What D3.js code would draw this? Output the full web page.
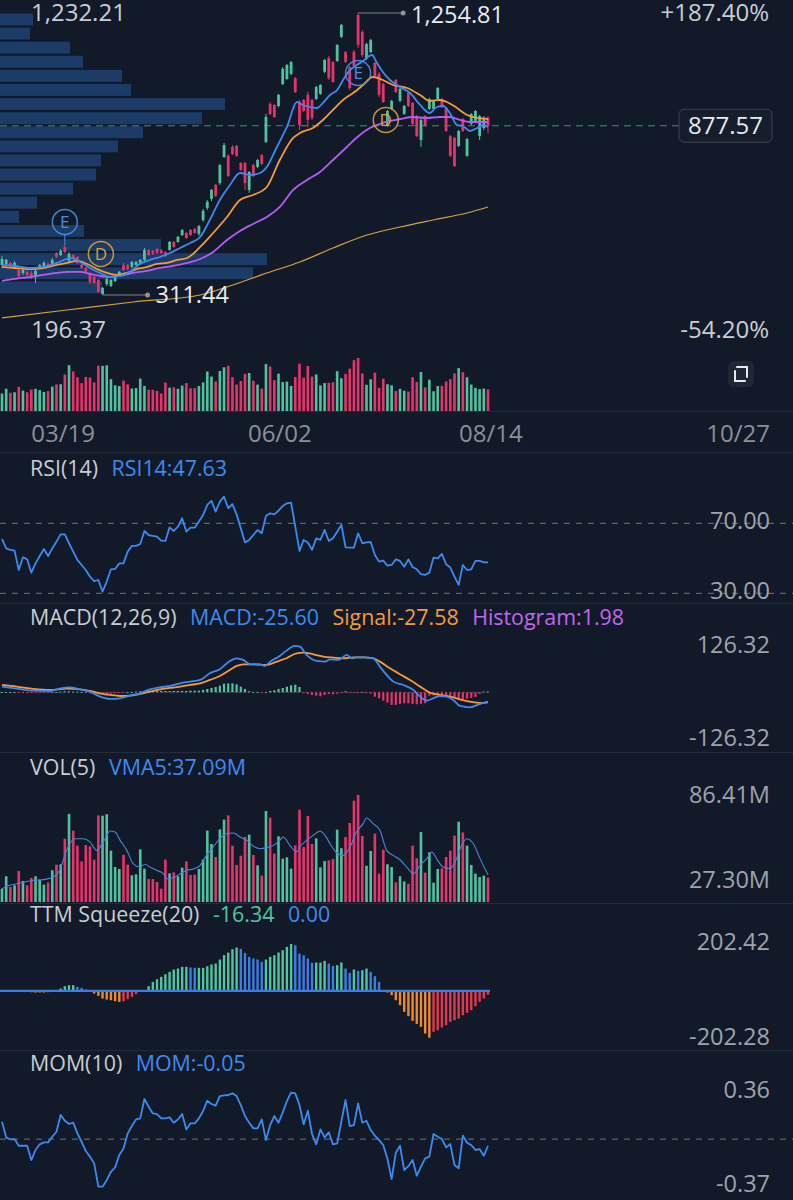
<!DOCTYPE html>
<html><head><meta charset="utf-8">
<script src="https://cdn.jsdelivr.net/npm/d3@7"></script>
<style>
html,body{margin:0;padding:0;background:#121a29;}
svg{display:block;font-family:"Open Sans","Noto Sans",sans-serif;}
</style></head><body>
<svg id="c" width="793" height="1200"></svg>
<script>
// ---------------- DATA ----------------
const opens  = [412,415,419,405,395,385,389,385,375,402,405,415,415,452,445,472,425,445,439,412,402,382,372,362,315,348,342,358,375,412,412,405,412,419,429,462,459,465,462,455,462,489,489,512,519,529,532,516,562,603,633,680,686,773,777,807,810,753,753,663,746,740,780,823,950,947,944,1017,1034,1051,1037,957,964,981,964,967,984,1058,1104,1091,1094,1175,1124,1074,1124,1248,1191,1101,1124,1088,1051,1017,877,934,1031,961,917,987,954,910,830,910,934,934,967,967,937,843,837,810,900,777,884,894,843,870,904];
const highs  = [442,432,422,425,402,402,395,392,402,415,425,422,435,455,465,479,455,449,442,415,405,389,375,365,338,372,365,382,392,419,415,425,425,432,469,465,462,469,465,459,492,492,509,532,522,532,536,546,599,629,666,683,750,820,783,813,813,756,756,726,750,767,783,917,957,950,984,1074,1084,1094,1041,964,967,991,967,1011,1017,1101,1111,1094,1151,1218,1128,1078,1131,1254.81,1198,1155,1168,1091,1058,1021,930,964,1034,1004,947,991,957,914,904,914,971,964,1007,971,940,847,840,864,904,837,920,930,914,910,910];
const lows   = [402,409,402,402,368,378,375,365,352,399,402,402,412,435,442,452,422,429,415,399,385,348,348,318,311.44,342,338,355,372,392,395,402,409,415,425,442,445,449,449,439,459,469,486,509,499,509,516,509,556,596,626,639,680,770,706,780,773,726,663,653,706,736,746,820,914,904,940,1014,1031,1047,987,863,924,873,897,964,981,1054,1031,1021,1091,1171,1088,997,1071,1138,1108,1098,1121,1041,974,954,874,930,987,957,914,940,880,840,807,874,930,930,964,937,857,773,740,807,857,773,880,890,830,863,853];
const closes = [432,429,409,419,375,395,378,372,392,412,419,405,429,439,459,455,449,432,419,402,389,355,352,322,335,365,362,375,389,395,399,422,422,429,462,445,449,452,452,442,489,472,506,529,502,512,519,542,593,623,663,643,746,813,710,783,777,730,686,723,710,763,750,907,917,907,981,1068,1081,1091,991,880,927,897,904,1007,1014,1098,1037,1024,1148,1215,1091,1004,1078,1148,1114,1151,1164,1044,981,957,927,961,991,1001,944,944,884,843,897,877,967,961,1004,940,860,777,743,860,860,833,917,927,910,904,877.57];
const volumes = [28.5,36.2,29.6,30.6,39.4,33.3,30.6,35.1,36.2,34.1,31.0,32.4,39.9,43.4,43.6,59.4,74.7,64.4,55.1,45.4,55.5,54.7,46.5,73.8,73.6,74.5,52.0,41.9,40.7,49.5,43.4,36.8,37.4,52.8,40.9,34.5,34.5,32.7,28.5,46.5,38.0,38.6,36.2,41.5,45.4,37.0,37.2,40.7,46.5,64.4,56.1,48.1,65.2,71.2,73.8,55.1,43.2,48.9,60.5,61.9,49.3,43.0,36.6,76.5,72.4,50.2,60.9,47.1,47.9,40.9,55.3,77.3,54.3,73.4,56.1,59.6,41.7,45.6,46.0,46.9,65.0,53.5,60.5,69.1,82.9,86.41,61.1,42.7,51.8,62.5,37.8,52.6,43.6,41.9,32.4,36.2,33.0,31.6,55.1,47.3,63.5,38.4,51.0,32.2,40.7,41.1,48.1,52.0,61.3,69.9,63.3,55.1,43.2,37.8,35.7,36.6,35.3];

// moving averages (day index, price)
const ma5Idx  = [0,3.1,6.7,9.8,13.1,15.5,16.7,18.6,21,23.4,25.8,28.2,30.5,32.9,35.3,37.7,40.1,42.5,44.9,47.3,49.6,52,54.4,56.8,59.2,61.6,63.2,65.6,68,70.4,71.8,73.5,75.2,76.6,78.3,80,81.4,83.1,84.7,86.2,88.3,89.5,90.9,92.6,95,97.4,99.8,102.1,103.8,105.3,106.9,108.6,110,111.7,113.4,114.8,116];
const ma5Val  = [411.9,408.5,401.8,405.2,418.6,432.0,435.3,421.9,401.8,385.1,371.7,375.1,388.5,415.2,428.6,438.6,452.0,468.7,485.5,505.5,562.4,629.3,679.5,719.6,712.9,719.6,739.7,806.6,873.5,957.1,947.1,940.4,937.0,953.8,980.5,997.3,1030.7,1064.2,1080.9,1094.3,1114.3,1087.6,1057.5,1030.7,1007.3,987.2,947.1,920.3,940.4,943.7,920.3,880.2,876.8,860.1,870.1,880.2,873.5];
const ma10Idx = [0,3.1,6.7,9.8,13.1,15.5,17.9,20.3,22.7,25.1,27.4,29.8,32.2,34.6,37,39.4,41.8,44.2,47.3,50.4,53.7,56.8,59.9,63.2,66.3,69.5,71.1,74.2,76.6,79,81.4,83.8,86.2,88.5,90.9,93.3,96.7,99.8,102.1,104.5,106.2,108.6,111,113.4,116];
const ma10Val = [405.2,401.8,398.5,401.8,411.9,418.6,425.3,415.2,398.5,385.1,378.4,385.1,398.5,405.2,415.2,418.6,428.6,435.3,472.1,518.9,572.4,629.3,646.0,672.8,763.1,836.7,853.4,870.1,896.9,930.4,963.8,987.2,1014.0,1040.7,1030.7,1014.0,1004.0,980.5,960.5,963.8,957.1,937.0,913.6,903.6,900.2];
const ma20Idx = [0,3.1,6.7,9.8,13.1,15.5,18.6,21,23.4,25.8,28.2,31.3,34.6,37.7,40.8,44.2,47.3,50.4,53.7,56.8,59.9,63.2,66.3,69.5,72.8,75.9,79,82.3,85.4,87.8,90.2,92.6,95,98.1,101.4,104.5,106.9,109.3,111.7,114.1,116];
const ma20Val = [358.4,365.1,371.7,378.4,385.1,388.5,388.5,381.8,375.1,371.7,375.1,385.1,391.8,401.8,408.5,418.6,432.0,455.4,495.5,525.6,549.0,572.4,605.9,662.8,696.2,723.0,763.1,806.6,846.7,870.1,883.5,893.6,900.2,906.9,903.6,906.9,906.9,896.9,890.2,890.2,890.2];
const maLongIdx = [0,15.5,31.3,47.3,55.1,63.2,71.1,79,87.1,95,102.9,111,116];
const maLongVal = [234.6,261.3,288.1,311.5,345.0,385.1,421.9,468.7,512.2,539.0,562.4,585.8,605.9];

// volume profile, top bin first
const profileVol = [33,30,70,83,122,131,225,202,143,118,101,96,73,37,19,84,161,267,253,102];

// events
const eventIdx   = [15, 23.6, 85, 91.6];
const eventType  = ["E","D","E","D"];
const eventPrice = [555.7, 448.7, 1054.1, 896.9];

// price labels
const priceTop = "1,232.21", priceBottom = "196.37";
const pctTop = "+187.40%", pctBottom = "-54.20%";
const lastPrice = 877.57;

// date axis
const dateLabels = ["03/19","06/02","08/14","10/27"];
const dateIdx    = [14.6, 66.3, 116.7, 175.7];

// RSI
const rsi = [60.9,55.7,54.8,54.4,43.3,50.6,49.4,41.8,47.1,51.3,55.3,51.3,55.7,59.5,63.7,63.7,58.6,53.8,49.1,46.2,43.3,39.5,37.0,37.6,31.0,36.7,43.7,43.9,47.1,47.1,53.8,57.1,57.1,58.2,65.6,63.3,62.8,62.4,60.1,59.9,67.7,65.6,68.1,72.9,65.2,67.5,67.5,71.0,74.8,80.5,82.8,76.7,82.4,85.2,78.6,80.9,75.1,67.1,59.1,60.5,63.3,66.2,64.3,74.2,75.7,75.1,77.2,79.9,81.4,81.8,68.1,54.2,60.5,59.0,54.8,61.4,60.5,66.2,59.9,61.4,65.2,69.1,56.3,56.1,56.1,64.3,58.6,59.1,59.3,51.9,48.1,48.7,45.8,46.2,49.4,48.5,45.2,49.4,45.0,43.7,40.9,40.5,41.8,50.4,50.0,52.5,46.6,44.7,39.5,34.8,46.2,43.3,43.7,48.5,48.5,47.7,47.63];

// MACD
const macdIdx = [0,3.5,7.5,11.5,13.8,16.2,18.6,21,23.4,25.8,28.2,30.5,32.9,35.3,37.7,40.1,42.5,44.9,47.3,49.6,52,54.4,56,57.6,59.2,61.6,62.8,64,66.3,67.9,69.9,71.1,72.7,75.1,77.1,78.3,80.3,82.3,83.5,84.6,86.2,88.6,90.2,91.8,93.4,95.8,98.2,99.8,101.4,102.9,104.5,106.1,107.7,109.3,111.7,114.1,116];
const macdVal = [15.4,10.0,4.5,3.6,10.0,13.6,8.2,1.8,-11.8,-18.1,-16.3,-9.1,-2.7,8.2,13.6,17.2,24.5,29.0,33.5,51.6,62.5,85.1,92.4,87.9,76.1,76.1,71.6,83.3,98.7,113.2,126.32,124.1,101.4,85.1,83.3,89.7,87.9,101.4,92.4,95.1,95.1,92.4,69.7,47.1,29.0,19.9,6.3,-11.8,-22.6,-16.3,-10.0,-11.8,-20.8,-37.1,-40.8,-31.7,-25.60];
const signalIdx = [0,3.5,7.5,11.5,15.4,18.6,21,23.4,25.8,28.2,30.5,32.9,35.3,37.7,40.1,42.5,44.9,47.3,49.6,52,54.4,56,57.6,60,62.8,65.6,67.9,70.3,71.9,74.3,76.7,79.1,81.5,83.9,86.2,88.6,90.2,92.6,95,97.4,99.8,102.1,104.5,106.9,109.3,111.7,114.1,116];
const signalVal = [19.9,15.4,9.1,6.3,10.0,8.2,3.6,-2.7,-7.2,-10.0,-9.1,-4.5,1.8,8.2,11.8,15.4,19.9,24.5,33.5,44.4,60.7,71.6,76.1,76.1,74.3,83.3,92.4,106.0,107.8,103.3,96.9,94.2,92.4,95.1,95.1,92.4,83.3,65.2,48.9,33.5,15.4,-0.9,-7.2,-11.8,-19.0,-25.4,-29.0,-27.58];
const macdHist = [0.9,0.9,0.9,0,-0.9,-0.9,-1.8,-1.8,-1.8,-1.8,-0.9,-0.9,0,0.9,1.8,2.7,2.7,1.8,1.8,0.9,-0.9,-2.7,-3.6,-4.5,-5.4,-4.5,-3.6,-2.7,-1.8,-0.9,0,0.9,1.8,2.7,3.6,4.5,4.5,4.5,3.6,3.6,3.6,3.6,3.6,3.6,3.6,4.5,4.5,4.5,6.3,9,11.7,14.4,18,23.4,24.3,24.3,21.6,15.3,9,2.7,0.9,0,-0.9,0,3.6,5.4,9,11.7,15.3,18.9,20.7,14.4,-2.7,-4.5,-7.2,-9,-10.8,-7.2,-4.5,-5.4,-3.6,-1.8,2.7,-0.9,-1.8,-0.9,0,-1.8,-3.6,-11.7,-16.2,-22.5,-27.9,-34.2,-34.2,-31.5,-29.7,-29.7,-31.5,-32.4,-31.5,-29.7,-9,-8.1,-7.2,-7.2,-9,-11.7,-15.3,-17.1,-18,-17.1,-15.3,-12.6,-4.5,1.8,1.98];

// VOL(5) moving average
const vmaIdx = [0,1.9,4.3,7.5,9.9,12.3,13.8,15.4,17.4,19.4,21,22.6,24.2,25.8,27,28.2,29.8,31.3,32.9,34.1,35.3,36.9,38.5,39.3,40.9,42.5,44.1,45.7,47.3,48.8,50.4,52,53.6,55.2,56.8,58.4,60,61.6,63.2,64.8,66.3,67.1,68.7,70.3,71.1,72.7,74.3,75.9,77.1,78.3,79.9,81.5,83.1,84.6,86.2,87,88.6,90.2,91.8,93.4,95,96.6,98.2,99.8,101.4,102.6,103.7,105.3,106.9,108.5,109.7,110.9,112.5,114.1,116];
const vmaVal = [28.5,30.6,32.0,33.7,34.1,35.7,39.9,52.2,59.4,59.4,57.4,52.2,57.4,64.2,63.5,58.4,52.2,44.0,41.9,43.6,41.9,39.9,37.8,34.7,35.3,37.8,39.9,40.7,43.0,49.1,54.3,59.4,62.5,62.9,60.5,58.4,54.7,53.2,53.9,55.3,58.4,60.5,55.3,51.2,54.3,58.4,61.5,64.2,61.5,56.3,50.6,49.1,54.3,63.5,68.7,72.2,68.7,64.6,52.2,49.1,46.4,41.9,37.8,43.0,47.1,51.2,47.1,41.9,40.9,47.1,55.3,59.4,56.3,47.1,37.09];

// TTM Squeeze momentum
const ttm = [0,1.4,1.4,0,0,-1.4,-4.3,-5.8,-7.2,-7.2,-7.2,-5.8,-1.4,0,10.1,20.2,24.5,24.5,17.3,13.0,5.8,-2.9,-11.5,-21.6,-33.1,-37.4,-40.3,-44.6,-47.5,-44.6,-36.0,-25.9,-14.4,-4.3,2.9,20.2,38.9,50.4,60.5,72.0,82.1,92.2,96.5,103.7,103.7,100.8,99.4,99.4,99.4,106.6,113.8,118.1,135.4,154.1,165.6,180.0,187.2,181.4,164.2,146.9,139.7,135.4,125.3,135.4,146.9,154.1,165.6,175.7,190.1,202.42,197.3,161.3,154.1,139.7,121.0,122.4,122.4,129.6,118.1,108.0,110.9,122.4,96.5,77.8,92.2,86.4,89.3,96.5,82.1,63.4,38.9,0.5,-7,-18.7,-40.3,-61.9,-90.7,-109.4,-129.6,-142.6,-155.5,-184.3,-202.28,-177.1,-169.9,-158.4,-148.3,-133.9,-126.7,-119.5,-105.1,-95.0,-83.5,-66.2,-47.5,-33.1,-16.34];

// Momentum
const mom = [0.135,0.013,-0.003,0.0,-0.052,-0.052,-0.052,-0.163,-0.085,-0.041,-0.026,-0.026,0.018,0.057,0.187,0.142,0.117,0.127,0.044,-0.021,-0.093,-0.137,-0.189,-0.370,-0.370,-0.319,-0.254,-0.220,-0.124,-0.073,0.044,0.101,0.153,0.161,0.311,0.251,0.199,0.194,0.161,0.161,0.168,0.127,0.153,0.194,0.075,0.122,0.122,0.161,0.218,0.298,0.272,0.259,0.334,0.339,0.342,0.355,0.334,0.264,0.179,0.127,0.083,0.083,0.153,-0.008,0.109,0.179,0.127,0.205,0.295,0.360,0.355,0.264,0.114,0.220,0.039,-0.041,0.075,0.013,0.052,-0.041,-0.034,0.135,0.303,0.101,0.109,0.277,0.127,0.142,0.070,0.026,-0.008,-0.047,-0.155,-0.311,-0.106,-0.052,-0.241,-0.210,-0.163,-0.285,-0.215,-0.150,-0.137,0.039,0.018,0.0,-0.065,-0.039,-0.202,-0.228,0.026,-0.028,-0.047,-0.085,-0.078,-0.130,-0.052];

// header texts
const rsiHeader  = [["RSI(14)","hdr"],["RSI14:47.63","blue"]];
const macdHeader = [["MACD(12,26,9)","hdr"],["MACD:-25.60","blue"],["Signal:-27.58","orange"],["Histogram:1.98","purple"]];
const volHeader  = [["VOL(5)","hdr"],["VMA5:37.09M","blue"]];
const ttmHeader  = [["TTM Squeeze(20)","hdr"],["-16.34","green"],["0.00","blue"]];
const momHeader  = [["MOM(10)","hdr"],["MOM:-0.05","blue"]];
const rsiLevels = [70, 30];
const rsiLevelLabels = ["70.00","30.00"];
const macdLabels = ["126.32","-126.32"];
const volLabels = ["86.41M","27.30M"];
const ttmLabels = ["202.42","-202.28"];
const momLabels = ["0.36","-0.37"];

// ---------------- STYLE ----------------
const C = {
  bg:"#121a29", up:"#4fc3a0", dn:"#e6336c", blue:"#3d8bf0", orange:"#f59a38",
  purple:"#b65cf3", gold:"#d6a33c", profile:"#1c3b66", grid:"#232b3a",
  txt:"#9ea3ad", hdr:"#c9cdd4", white:"#e8eaee",
  tGreen:"#4fc6a0", tBlue:"#3b7fe2", tOrange:"#f08a2c", tRed:"#e4384c"
};
const hdrColor = {hdr:C.hdr, blue:C.blue, orange:C.orange, purple:"#c266f0", green:C.tGreen};
const FS_HDR = 21.4, FS_AX = 23.5, FS_PRICE = 24, FS_DATE = 24;

const W = 793, N = closes.length;
const svg = d3.select("#c");
svg.append("rect").attr("width",W).attr("height",1200).attr("fill",C.bg);

const x = d3.scaleLinear().domain([0,116]).range([2,488]);
const barW = 2.8;

// ---------------- MAIN PRICE CHART ----------------
const yP = d3.scaleLinear().domain([311.44,1254.81]).range([295,13]);
const gMain = svg.append("g");

// volume profile
const step = (yP.domain()[1]-yP.domain()[0])/profileVol.length;
const xProf = d3.scaleLinear().domain([0,d3.max(profileVol)]).range([0,267]);
gMain.selectAll("rect.prof").data(profileVol).join("rect")
  .attr("x",0)
  .attr("y",(d,i)=>yP(yP.domain()[1]-i*step)+0.5)
  .attr("width",d=>xProf(d))
  .attr("height",(d,i)=>yP(yP.domain()[1]-(i+1)*step)-yP(yP.domain()[1]-i*step)-2.2)
  .attr("fill",C.profile);

// last price dashed line
gMain.append("line").attr("x1",0).attr("x2",679).attr("y1",yP(lastPrice)).attr("y2",yP(lastPrice))
  .attr("stroke","#3f8d7d").attr("stroke-width",1.2).attr("stroke-dasharray","7,5");

// candles
const idx = d3.range(N);
const isUp = i => closes[i] >= opens[i];
gMain.selectAll("line.wick").data(idx).join("line")
  .attr("x1",i=>x(i)).attr("x2",i=>x(i))
  .attr("y1",i=>yP(highs[i])).attr("y2",i=>yP(lows[i]))
  .attr("stroke",i=>isUp(i)?C.up:C.dn).attr("stroke-width",1);
gMain.selectAll("rect.body").data(idx).join("rect")
  .attr("x",i=>x(i)-barW/2).attr("width",barW)
  .attr("y",i=>yP(Math.max(opens[i],closes[i])))
  .attr("height",i=>Math.max(1,Math.abs(yP(opens[i])-yP(closes[i]))))
  .attr("fill",i=>isUp(i)?C.up:C.dn);

// moving averages
const maLine = d3.line().x(d=>x(d[0])).y(d=>yP(d[1])).curve(d3.curveMonotoneX);
const zip = (a,b)=>a.map((v,i)=>[v,b[i]]);
gMain.append("path").attr("d",maLine(zip(maLongIdx,maLongVal))).attr("fill","none").attr("stroke",C.gold).attr("stroke-width",1.2);
gMain.append("path").attr("d",maLine(zip(ma20Idx,ma20Val))).attr("fill","none").attr("stroke",C.purple).attr("stroke-width",1.8);
gMain.append("path").attr("d",maLine(zip(ma10Idx,ma10Val))).attr("fill","none").attr("stroke",C.orange).attr("stroke-width",1.8);
gMain.append("path").attr("d",maLine(zip(ma5Idx,ma5Val))).attr("fill","none").attr("stroke",C.blue).attr("stroke-width",1.8);

// event markers
eventIdx.forEach((ei,k)=>{
  const cx = x(ei), cy = yP(eventPrice[k]);
  const col = eventType[k]==="E" ? "#4a8fe6" : "#d9a234";
  if(eventType[k]==="E"){
    const hi = highs[Math.round(ei)];
    if(yP(hi) > cy+12) gMain.append("line").attr("x1",cx).attr("x2",cx).attr("y1",cy+12).attr("y2",yP(hi)).attr("stroke",col).attr("stroke-width",1);
  }
  gMain.append("circle").attr("cx",cx).attr("cy",cy).attr("r",12.5).attr("fill","none").attr("stroke",col).attr("stroke-width",1.5).attr("opacity",0.9);
  gMain.append("text").attr("x",cx).attr("y",cy+6).attr("text-anchor","middle").attr("font-size",17).attr("fill",col).text(eventType[k]);
});

// high / low annotations
const iHi = d3.maxIndex(highs), iLo = d3.minIndex(lows);
function annot(i, val, label, fy){
  const x0 = x(i), y0 = yP(val);
  gMain.append("line").attr("x1",x0).attr("x2",x0+43).attr("y1",y0).attr("y2",y0).attr("stroke","#7d828c").attr("stroke-width",1);
  gMain.append("circle").attr("cx",x0+45).attr("cy",y0).attr("r",2.5).attr("fill","#8d929b");
  gMain.append("text").attr("x",x0+53).attr("y",y0+fy).attr("font-size",FS_PRICE-0.5).attr("fill",C.white).text(label);
}
annot(iHi, highs[iHi], d3.format(",.2f")(highs[iHi]), 9.5);
annot(iLo, lows[iLo], d3.format(",.2f")(lows[iLo]), 8);

// price labels
gMain.append("text").attr("x",31).attr("y",21).attr("font-size",FS_PRICE).attr("fill",C.hdr).text(priceTop);
gMain.append("text").attr("x",31).attr("y",338).attr("font-size",FS_PRICE).attr("fill",C.hdr).text(priceBottom);
gMain.append("text").attr("x",769).attr("y",21).attr("text-anchor","end").attr("font-size",FS_PRICE).attr("fill",C.hdr).text(pctTop);
gMain.append("text").attr("x",769).attr("y",338).attr("text-anchor","end").attr("font-size",FS_PRICE).attr("fill",C.hdr).text(pctBottom);

// last price box
gMain.append("rect").attr("x",679).attr("y",yP(lastPrice)-16.5).attr("width",93).attr("height",33).attr("rx",5)
  .attr("fill","#161e2d").attr("stroke","#3b4352").attr("stroke-width",1);
gMain.append("text").attr("x",725.5).attr("y",yP(lastPrice)+8).attr("text-anchor","middle").attr("font-size",FS_PRICE).attr("fill",C.white).text(d3.format(".2f")(lastPrice));

// expand icon
svg.append("rect").attr("x",728).attr("y",361).attr("width",26).attr("height",26).attr("rx",6).attr("fill","#1f2736");
svg.append("path").attr("d","M737 367 H747 V377 M745 381 H735 V371").attr("fill","none").attr("stroke","#e8eaee").attr("stroke-width",2).attr("stroke-linecap","round");

// ---------------- MINI VOLUME ----------------
const yV1 = d3.scaleLinear().domain([0,86.41]).range([411,358]);
svg.append("line").attr("x1",0).attr("x2",W).attr("y1",411.5).attr("y2",411.5).attr("stroke",C.grid);
svg.selectAll("rect.v1").data(idx).join("rect")
  .attr("x",i=>x(i)-1.3).attr("width",2.6)
  .attr("y",i=>yV1(volumes[i])).attr("height",i=>411-yV1(volumes[i]))
  .attr("fill",i=>isUp(i)?C.up:C.dn);

// date axis
svg.selectAll("text.date").data(dateLabels).join("text")
  .attr("x",(d,i)=>x(dateIdx[i])).attr("y",442).attr("text-anchor","middle")
  .attr("font-size",FS_DATE).attr("fill","#8b909a").text(d=>d);

// separators
[452,603,752,903,1050].forEach(y=>svg.append("line").attr("x1",0).attr("x2",W).attr("y1",y+0.5).attr("y2",y+0.5).attr("stroke",C.grid));

function header(items, y){
  let cx = 30;
  items.forEach(([t,c])=>{
    const el = svg.append("text").attr("x",cx).attr("y",y).attr("font-size",FS_HDR).attr("fill",hdrColor[c]).text(t);
    cx += el.node().getComputedTextLength() + 13.5;
  });
}
function rlabel(t,y){ svg.append("text").attr("x",770).attr("y",y).attr("text-anchor","end").attr("font-size",FS_AX).attr("fill",C.txt).text(t); }

// ---------------- RSI ----------------
header(rsiHeader, 476);
const yR = d3.scaleLinear().domain([30,70]).range([593.3,523.3]);
rsiLevels.forEach((lv,k)=>{
  svg.append("line").attr("x1",0).attr("x2",W).attr("y1",yR(lv)).attr("y2",yR(lv)).attr("stroke","#5d636e").attr("stroke-width",1.2).attr("stroke-dasharray","6,6");
  rlabel(rsiLevelLabels[k], yR(lv)+6);
});
svg.append("path").attr("d",d3.line().x((d,i)=>x(i)).y(d=>yR(d))(rsi)).attr("fill","none").attr("stroke",C.blue).attr("stroke-width",1.8).attr("stroke-linejoin","round");

// ---------------- MACD ----------------
header(macdHeader, 625);
const yM = d3.scaleLinear().domain([-126.32,126.32]).range([738.8,645.8]);
svg.append("line").attr("x1",0).attr("x2",x(116)+2).attr("y1",yM(0)).attr("y2",yM(0)).attr("stroke","#6a5066").attr("stroke-width",1).attr("stroke-dasharray","1.5,3");
svg.selectAll("rect.mh").data(idx).join("rect")
  .attr("x",i=>x(i)-1.1).attr("width",2.2)
  .attr("y",i=>Math.min(yM(macdHist[i]),yM(0)))
  .attr("height",i=>Math.max(0.8,Math.abs(yM(macdHist[i])-yM(0))))
  .attr("fill",i=>macdHist[i]>=0?C.up:C.dn);
const mLine = d3.line().x(d=>x(d[0])).y(d=>yM(d[1])).curve(d3.curveMonotoneX);
svg.append("path").attr("d",mLine(zip(signalIdx,signalVal))).attr("fill","none").attr("stroke",C.orange).attr("stroke-width",1.8);
svg.append("path").attr("d",mLine(zip(macdIdx,macdVal))).attr("fill","none").attr("stroke",C.blue).attr("stroke-width",1.8);
rlabel(macdLabels[0],653); rlabel(macdLabels[1],746);

// ---------------- VOL ----------------
header(volHeader, 775);
const yV = d3.scaleLinear().domain([20.3,86.41]).range([902,795]);
svg.selectAll("rect.v2").data(idx).join("rect")
  .attr("x",i=>x(i)-1.3).attr("width",2.6)
  .attr("y",i=>yV(volumes[i])).attr("height",i=>902-yV(volumes[i]))
  .attr("fill",i=>isUp(i)?C.up:C.dn);
svg.append("path").attr("d",d3.line().x(d=>x(d[0])).y(d=>yV(d[1])).curve(d3.curveMonotoneX)(zip(vmaIdx,vmaVal)))
  .attr("fill","none").attr("stroke","#4a86d8").attr("stroke-width",1.1);
rlabel(volLabels[0],803); rlabel(volLabels[1],888);

// ---------------- TTM ----------------
header(ttmHeader, 922);
const yT = d3.scaleLinear().domain([-202.28,202.42]).range([1037.7,944]);
const ttmCol = i => {
  const v = ttm[i], p = i>0 ? ttm[i-1] : 0;
  if(v>=0) return v>=p ? C.tGreen : C.tBlue;
  return v<=p ? C.tOrange : C.tRed;
};
svg.selectAll("rect.tt").data(idx).join("rect")
  .attr("x",i=>x(i)-1.2).attr("width",2.4)
  .attr("y",i=>Math.min(yT(ttm[i]),yT(0)))
  .attr("height",i=>Math.abs(yT(ttm[i])-yT(0)))
  .attr("fill",ttmCol);
svg.append("line").attr("x1",0).attr("x2",x(116)+2).attr("y1",yT(0)).attr("y2",yT(0)).attr("stroke",C.tBlue).attr("stroke-width",2.4);
rlabel(ttmLabels[0],950); rlabel(ttmLabels[1],1045);

// ---------------- MOM ----------------
header(momHeader, 1071);
const yMo = d3.scaleLinear().domain([-0.37,0.36]).range([1186.7,1092.7]);
svg.append("line").attr("x1",0).attr("x2",W).attr("y1",yMo(0)).attr("y2",yMo(0)).attr("stroke","#5d636e").attr("stroke-width",1.2).attr("stroke-dasharray","6,6");
svg.append("path").attr("d",d3.line().x((d,i)=>x(i)).y(d=>yMo(d))(mom)).attr("fill","none").attr("stroke",C.blue).attr("stroke-width",1.8).attr("stroke-linejoin","round");
rlabel(momLabels[0],1098); rlabel(momLabels[1],1192);
</script>
</body></html>
